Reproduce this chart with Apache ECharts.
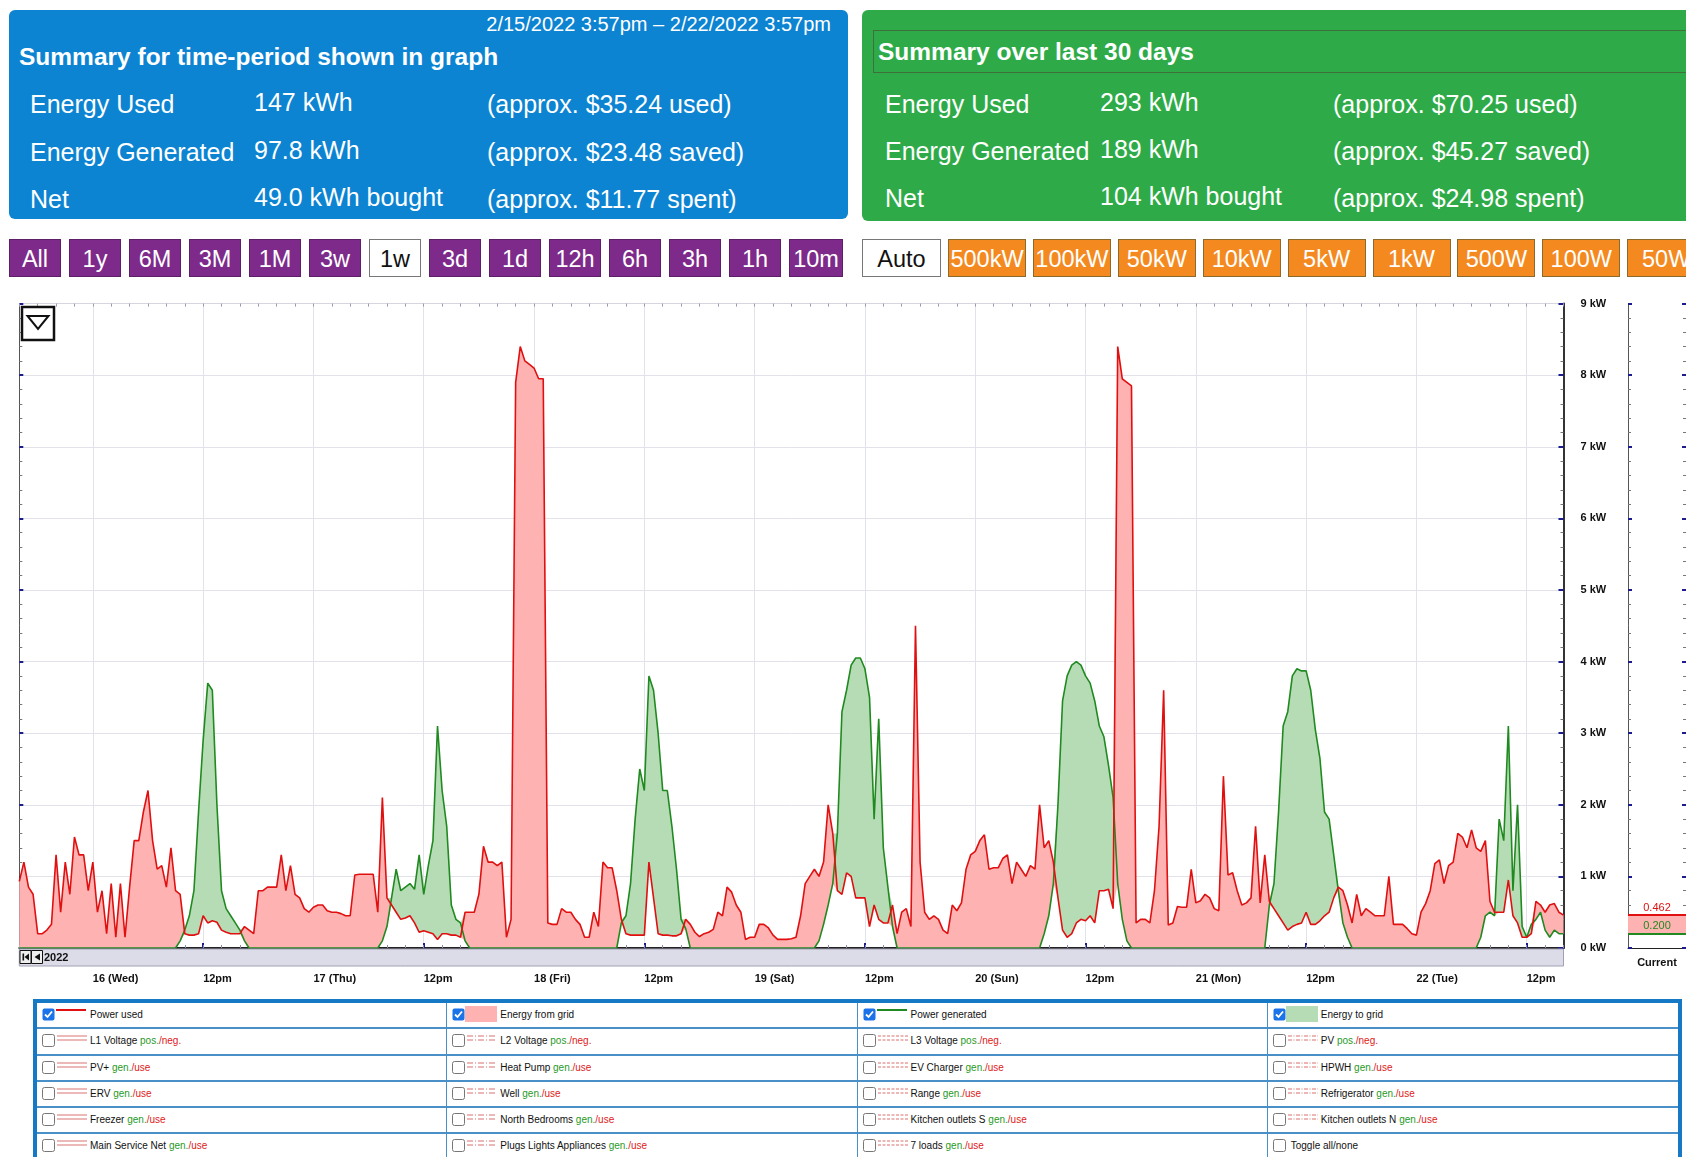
<!DOCTYPE html>
<html>
<head>
<meta charset="utf-8">
<script src="https://cdn.jsdelivr.net/npm/echarts@6/dist/echarts.min.js"></script>
<style>
  body { margin: 0; width: 1686px; height: 1157px; background: #fff; position: relative; overflow: hidden;
         font-family: "Liberation Sans", Arial, sans-serif; }
  .panel { position: absolute; border-radius: 6px; color: #fff; overflow: hidden; }
  .panel div { position: absolute; white-space: nowrap; }
  .row { font-size: 25px; line-height: 28px; }
  .title { font-size: 24.5px; line-height: 26px; font-weight: bold; }
  .btn { position: absolute; top: 239px; height: 38px; line-height: 38px; text-align: center; font-size: 23.5px;
         color: #fff; box-sizing: border-box; white-space: nowrap; overflow: hidden; }
  .purple { background: #7d2a8b; border: 1px solid #5e1f69; }
  .orange { background: #f48a1f; border: 1px solid #8b6a2c; }
  .white { background: #fff; color: #111; border: 1px solid #777; }
  #chart { position: absolute; left: 0; top: 285px; width: 1686px; height: 712px; }
  #legend { position: absolute; left: 33px; top: 999px; width: 1649px; border: 4px solid #1579c6; border-bottom: 0;
            box-sizing: border-box; display: grid; grid-template-columns: repeat(4, 1fr); background: #fff; }
  .cell { height: 24.3px; border-bottom: 2px solid #4a90c8; border-right: 1px solid #4a90c8; position: relative;
          font-size: 10px; color: #111; }
  .cell:nth-child(4n) { border-right: 0; }
  .cell svg { position: absolute; }
  .cell > span { position: absolute; left: 53px; top: 6px; white-space: nowrap; }
  .g { color: #1f9a1f; } .r { color: #e02020; }
</style>
</head>
<body>

<div class="panel" style="left:9px;top:10px;width:839px;height:209px;background:#0c84d2;">
  <div style="right:17px;top:3px;font-size:20px;line-height:22px;">2/15/2022 3:57pm &ndash; 2/22/2022 3:57pm</div>
  <div class="title" style="left:10px;top:34px;">Summary for time-period shown in graph</div>
  <div class="row" style="left:21px;top:80px;">Energy Used</div>
  <div class="row" style="left:245px;top:78px;">147 kWh</div>
  <div class="row" style="left:478px;top:80px;">(approx. $35.24 used)</div>
  <div class="row" style="left:21px;top:128px;">Energy Generated</div>
  <div class="row" style="left:245px;top:126px;">97.8 kWh</div>
  <div class="row" style="left:478px;top:128px;">(approx. $23.48 saved)</div>
  <div class="row" style="left:21px;top:175px;">Net</div>
  <div class="row" style="left:245px;top:173px;">49.0 kWh bought</div>
  <div class="row" style="left:478px;top:175px;">(approx. $11.77 spent)</div>
</div>

<div class="panel" style="left:862px;top:10px;width:840px;height:211px;background:#2eab48;">
  <div style="left:11px;top:20px;width:830px;height:41px;border:1px solid #3f6f3a;"></div>
  <div class="title" style="left:16px;top:29px;">Summary over last 30 days</div>
  <div class="row" style="left:23px;top:80px;">Energy Used</div>
  <div class="row" style="left:238px;top:78px;">293 kWh</div>
  <div class="row" style="left:471px;top:80px;">(approx. $70.25 used)</div>
  <div class="row" style="left:23px;top:127px;">Energy Generated</div>
  <div class="row" style="left:238px;top:125px;">189 kWh</div>
  <div class="row" style="left:471px;top:127px;">(approx. $45.27 saved)</div>
  <div class="row" style="left:23px;top:174px;">Net</div>
  <div class="row" style="left:238px;top:172px;">104 kWh bought</div>
  <div class="row" style="left:471px;top:174px;">(approx. $24.98 spent)</div>
</div>

<div id="buttons"></div>
<div id="chart"></div>
<div id="legend"></div>

<script>
// half-hourly readings, first one at 2/15 16:00 (hour -8 relative to midnight of the 16th)
const startHour = -8;
const stepHours = 0.5;

// power used, kW
const usedKw = [
  0.93, 1.2, 0.85, 0.75, 0.2, 0.2, 0.25, 0.33, 1.3, 0.5, 1.2, 0.75, 1.55, 1.3, 1.3, 0.8,
  1.2, 0.5, 0.8, 0.2, 0.9, 0.15, 0.9, 0.15, 0.85, 1.5, 1.5, 1.9, 2.2, 1.5, 1.1, 1.15, 0.85, 1.4, 0.8, 0.75, 0.2, 0.18, 0.18, 0.2,
  0.45, 0.35, 0.38, 0.36, 0.25, 0.22, 0.2, 0.2, 0.2, 0.3, 0.25, 0.2, 0.8, 0.8, 0.85, 0.85, 0.85, 1.3, 0.8, 1.15, 0.75, 0.7, 0.55, 0.5,
  0.57, 0.6, 0.6, 0.52, 0.5, 0.5, 0.48, 0.45, 0.45, 1.02, 1.03, 1.03, 1.03, 1.03, 0.5, 2.1, 0.7, 0.6, 0.5, 0.4, 0.42, 0.45, 0.35, 0.22,
  0.24, 0.22, 0.2, 0.12, 0.2, 0.2, 0.18, 0.18, 0.15, 0.5, 0.5, 0.5, 0.75, 1.42, 1.2, 1.2, 1.15, 1.2, 0.15, 0.4, 7.9, 8.4, 8.2, 8.15,
  8.1, 7.95, 7.95, 0.35, 0.33, 0.33, 0.55, 0.5, 0.5, 0.4, 0.33, 0.15, 0.15, 0.5, 0.3, 1.2, 1.12, 1.12, 0.8, 0.4, 0.2, 0.18, 0.18, 0.18,
  0.18, 1.2, 0.7, 0.2, 0.18, 0.18, 0.17, 0.17, 0.2, 0.4, 0.33, 0.22, 0.16, 0.2, 0.22, 0.26, 0.5, 0.45, 0.85, 0.78, 0.6, 0.5, 0.12, 0.15,
  0.15, 0.33, 0.33, 0.28, 0.18, 0.12, 0.12, 0.12, 0.13, 0.15, 0.45, 0.9, 1.0, 1.1, 1.0, 1.2, 2.0, 1.6, 0.8, 0.75, 1.05, 1.0, 0.7, 0.7,
  0.7, 0.3, 0.6, 0.4, 0.35, 0.35, 0.6, 0.2, 0.5, 0.55, 0.3, 4.5, 1.2, 0.5, 0.4, 0.45, 0.4, 0.25, 0.2, 0.6, 0.52, 0.63, 1.1, 1.3,
  1.35, 1.5, 1.58, 1.1, 1.12, 1.12, 1.25, 1.3, 0.9, 1.2, 1.1, 1.0, 1.15, 1.1, 2.0, 1.4, 1.5, 1.2, 0.7, 0.25, 0.15, 0.2, 0.35, 0.4,
  0.38, 0.45, 0.35, 0.8, 0.8, 0.82, 0.55, 8.4, 7.95, 7.9, 7.85, 0.35, 0.4, 0.4, 0.35, 0.8, 1.7, 3.6, 0.32, 0.35, 0.58, 0.57, 0.57, 1.1,
  0.63, 0.66, 0.75, 0.7, 0.55, 0.52, 2.4, 1.02, 1.05, 0.8, 0.6, 0.63, 0.7, 1.7, 0.63, 1.3, 0.65, 0.55, 0.45, 0.35, 0.25, 0.3, 0.33, 0.35,
  0.5, 0.33, 0.33, 0.38, 0.45, 0.5, 0.7, 0.85, 0.8, 0.6, 0.35, 0.75, 0.45, 0.55, 0.5, 0.45, 0.45, 0.45, 1.0, 0.33, 0.33, 0.33, 0.27, 0.2,
  0.18, 0.5, 0.62, 0.8, 1.18, 1.23, 0.9, 1.15, 1.2, 1.6, 1.55, 1.4, 1.65, 1.4, 1.35, 1.5, 0.65, 0.5, 0.5, 0.5, 0.95, 0.45, 0.35, 0.15,
  0.15, 0.2, 0.65, 0.6, 0.5, 0.6, 0.62, 0.5, 0.46
];

// power generated, kW
const genKw = [
  0, 0, 0, 0, 0, 0, 0, 0, 0, 0, 0, 0, 0, 0, 0, 0,
  0, 0, 0, 0, 0, 0, 0, 0, 0, 0, 0, 0, 0, 0, 0, 0, 0, 0, 0, 0.1, 0.25, 0.45, 0.8, 1.9,
  2.9, 3.7, 3.6, 2.0, 0.8, 0.55, 0.45, 0.35, 0.25, 0.1, 0, 0, 0, 0, 0, 0, 0, 0, 0, 0, 0, 0, 0, 0,
  0, 0, 0, 0, 0, 0, 0, 0, 0, 0, 0, 0, 0, 0, 0, 0.1, 0.3, 0.7, 1.1, 0.8, 0.85, 0.9, 0.82, 1.3,
  0.75, 1.15, 1.5, 3.1, 2.2, 1.7, 0.6, 0.4, 0.35, 0.1, 0, 0, 0, 0, 0, 0, 0, 0, 0, 0, 0, 0, 0, 0,
  0, 0, 0, 0, 0, 0, 0, 0, 0, 0, 0, 0, 0, 0, 0, 0, 0, 0, 0, 0.35, 0.45, 0.9, 1.8, 2.5,
  2.2, 3.8, 3.6, 3.0, 2.2, 2.2, 1.7, 1.1, 0.4, 0.27, 0, 0, 0, 0, 0, 0, 0, 0, 0, 0, 0, 0, 0, 0,
  0, 0, 0, 0, 0, 0, 0, 0, 0, 0, 0, 0, 0, 0, 0.1, 0.33, 0.6, 0.9, 1.6, 3.3, 3.6, 3.95, 4.05, 4.05,
  3.9, 3.5, 1.8, 3.2, 1.4, 0.85, 0.3, 0, 0, 0, 0, 0, 0, 0, 0, 0, 0, 0, 0, 0, 0, 0, 0, 0,
  0, 0, 0, 0, 0, 0, 0, 0, 0, 0, 0, 0, 0, 0, 0, 0.2, 0.45, 0.9, 2.0, 3.45, 3.8, 3.95, 4.0, 3.95,
  3.8, 3.7, 3.45, 3.1, 2.95, 2.55, 2.1, 0.9, 0.4, 0.1, 0, 0, 0, 0, 0, 0, 0, 0, 0, 0, 0, 0, 0, 0,
  0, 0, 0, 0, 0, 0, 0, 0, 0, 0, 0, 0, 0, 0, 0, 0, 0.6, 0.9, 1.9, 3.1, 3.3, 3.8, 3.9, 3.87,
  3.87, 3.6, 3.05, 2.65, 1.9, 1.8, 1.3, 0.8, 0.35, 0.15, 0, 0, 0, 0, 0, 0, 0, 0, 0, 0, 0, 0, 0, 0,
  0, 0, 0, 0, 0, 0, 0, 0, 0, 0, 0, 0, 0, 0, 0.15, 0.45, 0.5, 0.45, 1.8, 1.5, 3.1, 0.8, 2.0, 0.3,
  0.15, 0.33, 0.4, 0.5, 0.25, 0.15, 0.25, 0.2, 0.2
];

const currentUsed = 0.462;
const currentGen = 0.200;

const dayLabels = ['16 (Wed)', '17 (Thu)', '18 (Fri)', '19 (Sat)', '20 (Sun)', '21 (Mon)', '22 (Tue)'];
const noonLabel = '12pm';

const rangeButtons = ['All', '1y', '6M', '3M', '1M', '3w', '1w', '3d', '1d', '12h', '6h', '3h', '1h', '10m'];
const scaleButtons = ['Auto', '500kW', '100kW', '50kW', '10kW', '5kW', '1kW', '500W', '100W', '50W'];

const legendNames = [
  ['Power used', 'Energy from grid', 'Power generated', 'Energy to grid'],
  ['L1 Voltage', 'L2 Voltage', 'L3 Voltage', 'PV'],
  ['PV+', 'Heat Pump', 'EV Charger', 'HPWH'],
  ['ERV', 'Well', 'Range', 'Refrigerator'],
  ['Freezer', 'North Bedrooms', 'Kitchen outlets S', 'Kitchen outlets N'],
  ['Main Service Net', 'Plugs Lights Appliances', '7 loads', 'Toggle all/none']
];

// ---- buttons ----
let html = '';
rangeButtons.forEach((b, i) => {
  const w = i === rangeButtons.length - 1 ? 54 : 52;
  html += `<div class="btn ${b === '1w' ? 'white' : 'purple'}" style="left:${9 + i * 60}px;width:${w}px">${b}</div>`;
});
scaleButtons.forEach((b, i) => {
  const left = i === 0 ? 862 : 948 + (i - 1) * 84.9;
  html += `<div class="btn ${b === 'Auto' ? 'white' : 'orange'}" style="left:${left}px;width:${i === 0 ? 79 : 78}px">${b}</div>`;
});
document.getElementById('buttons').innerHTML = html;

// ---- legend table ----
const boxOn = '<svg style="left:5px;top:5px" width="13" height="13"><rect x="0.5" y="0.5" width="12" height="12" rx="2" fill="#1a73e8"/><path d="M3 6.5 L5.5 9 L10 3.5" stroke="#fff" stroke-width="1.8" fill="none"/></svg>';
const boxOff = '<svg style="left:5px;top:5px" width="13" height="13"><rect x="0.5" y="0.5" width="12" height="12" rx="2" fill="#fff" stroke="#777"/></svg>';
const dashes = ['', '6 2 1 2', '3 1.5', '4 1.5 1 1.5'];
function sample(row, col) {
  if (row === 0) {
    if (col === 0) return '<svg style="left:19px;top:5px" width="30" height="6"><line x1="0" y1="2" x2="30" y2="2" stroke="#e01010" stroke-width="2"/></svg>';
    if (col === 2) return '<svg style="left:19px;top:5px" width="30" height="6"><line x1="0" y1="2" x2="30" y2="2" stroke="#208a20" stroke-width="2"/></svg>';
    const c = col === 1 ? '#ffb2b2' : '#b6dcb6';
    return `<svg style="left:18px;top:3px" width="32" height="16"><rect width="32" height="16" fill="${c}"/></svg>`;
  }
  if (row === 5 && col === 3) return '';
  const d = dashes[col] ? `stroke-dasharray="${dashes[col]}"` : '';
  return `<svg style="left:20px;top:5px" width="30" height="9"><line x1="0" y1="2" x2="30" y2="2" stroke="#e6a0a0" stroke-width="1.5" ${d}/><line x1="0" y1="6" x2="30" y2="6" stroke="#e6a0a0" stroke-width="1.5" ${d}/></svg>`;
}
let lg = '';
legendNames.forEach((r, ri) => r.forEach((name, ci) => {
  let text = name;
  if (ri > 0 && !(ri === 5 && ci === 3)) {
    text += ri === 1 ? ' <span class="g">pos.</span><span class="r">/neg.</span>'
                     : ' <span class="g">gen.</span><span class="r">/use</span>';
  }
  const left = (ri === 5 && ci === 3) ? 23 : 53;
  lg += `<div class="cell">${ri === 0 ? boxOn : boxOff}${sample(ri, ci)}<span style="left:${left}px">${text}</span></div>`;
}));
document.getElementById('legend').innerHTML = lg;

// ---- chart ----
const hours = usedKw.map((_, i) => startHour + i * stepHours);
const baseKw = usedKw.map((u, i) => Math.min(u, genKw[i]));
const fromGridKw = usedKw.map((u, i) => Math.max(u - genKw[i], 0));
const toGridKw = usedKw.map((u, i) => Math.max(genKw[i] - u, 0));

const isMajor = i => hours[i] >= 0 && hours[i] % 12 === 0;
const isMinor = i => hours[i] % 2 === 0;

const font = '"Liberation Sans", Arial, sans-serif';
const tickBlue = '#1c1c8c';

const chart = echarts.init(document.getElementById('chart'));

const timeAxis = (extra) => Object.assign({
  type: 'category', gridIndex: 0, data: hours, boundaryGap: false,
  axisLine: { show: false }, axisLabel: { show: false }, splitLine: { show: false }
}, extra);

const kwAxis = (extra) => Object.assign({
  type: 'value', min: 0, max: 9, interval: 1,
  axisLine: { show: true, onZero: false, lineStyle: { color: '#555', width: 1 } },
  axisTick: { show: true, inside: true, length: 4, lineStyle: { color: tickBlue, width: 2 } },
  minorTick: { show: true, splitNumber: 5, length: 3, lineStyle: { color: '#777' } },
  axisLabel: { show: false }, splitLine: { show: false }
}, extra);

chart.setOption({
  animation: false,
  grid: [
    { left: 19.3, top: 18.6, width: 1544.2, height: 644.4 },
    { left: 1628, top: 18.6, width: 58, height: 644.4 }
  ],
  xAxis: [
    timeAxis({
      position: 'bottom',
      axisLine: { show: true, onZero: false, lineStyle: { color: '#222', width: 2 } },
      axisTick: { show: true, inside: true, length: 5, interval: isMajor, lineStyle: { color: tickBlue, width: 2 } },
      axisLabel: {
        show: true, interval: isMajor, align: 'left', margin: 25, hideOverlap: false,
        fontWeight: 'bold', fontSize: 11, color: '#111', fontFamily: font,
        formatter: v => (Number(v) % 24 === 0 ? dayLabels[Number(v) / 24] : noonLabel)
      },
      splitLine: { show: true, interval: isMajor, lineStyle: { color: '#e2e2ea', width: 1 } }
    }),
    timeAxis({ position: 'bottom', axisTick: { show: true, inside: true, length: 3, interval: isMinor, lineStyle: { color: '#8a8aa8' } } }),
    timeAxis({ position: 'top', axisLine: { show: true, onZero: false, lineStyle: { color: '#d6d6e0' } },
               axisTick: { show: true, inside: true, length: 3, interval: isMinor, lineStyle: { color: '#9a9ab4' } } }),
    timeAxis({ position: 'top', axisTick: { show: true, inside: true, length: 4, interval: isMajor, lineStyle: { color: tickBlue, width: 2 } } }),
    {
      type: 'category', gridIndex: 1, data: ['Current'],
      axisLine: { show: true, onZero: false, lineStyle: { color: '#222', width: 1 } }, axisTick: { show: false },
      axisLabel: { margin: 9, fontWeight: 'bold', fontSize: 11, color: '#111', fontFamily: font }
    }
  ],
  yAxis: [
    kwAxis({
      gridIndex: 0, position: 'right',
      axisLine: { show: true, onZero: false, lineStyle: { color: '#333', width: 2 } },
      axisTick: { show: true, inside: true, length: 5, lineStyle: { color: tickBlue, width: 2 } },
      axisLabel: { show: true, formatter: v => v + ' kW', margin: 17, align: 'left', fontWeight: 'bold', fontSize: 11, color: '#111', fontFamily: font },
      splitLine: { show: true, lineStyle: { color: '#e2e2ea' } }
    }),
    kwAxis({ gridIndex: 0, position: 'left' }),
    kwAxis({ gridIndex: 1, position: 'left' }),
    kwAxis({ gridIndex: 1, position: 'right' })
  ],
  series: [
    { type: 'line', stack: 'fill', data: baseKw, symbol: 'none', silent: true,
      lineStyle: { opacity: 0 }, areaStyle: { opacity: 0 } },
    { type: 'line', name: 'Energy from grid', stack: 'fill', data: fromGridKw, symbol: 'none', silent: true,
      lineStyle: { opacity: 0 }, areaStyle: { color: '#ffb2b2', opacity: 1 } },
    { type: 'line', name: 'Energy to grid', stack: 'fill', data: toGridKw, symbol: 'none', silent: true,
      lineStyle: { opacity: 0 }, areaStyle: { color: '#b6dcb6', opacity: 1 } },
    { type: 'line', name: 'Power generated', data: genKw, symbol: 'none', lineStyle: { color: '#208a20', width: 1.6 } },
    { type: 'line', name: 'Power used', data: usedKw, symbol: 'none', lineStyle: { color: '#e01010', width: 1.6 } },
    { type: 'bar', xAxisIndex: 4, yAxisIndex: 2, stack: 'cur', data: [currentGen], barWidth: '100%',
      itemStyle: { color: 'rgba(0,0,0,0)' }, silent: true },
    { type: 'bar', xAxisIndex: 4, yAxisIndex: 2, stack: 'cur', data: [currentUsed - currentGen], barWidth: '100%',
      itemStyle: { color: '#ffb2b2' }, silent: true,
      markLine: {
        symbol: 'none', silent: true,
        data: [
          { yAxis: currentUsed, lineStyle: { color: '#e01010', width: 2, type: 'solid' },
            label: { formatter: currentUsed.toFixed(3), position: 'insideMiddleTop', color: '#e01010', fontSize: 11, distance: 2 } },
          { yAxis: currentGen, lineStyle: { color: '#208a20', width: 2, type: 'solid' },
            label: { formatter: currentGen.toFixed(3), position: 'insideMiddleTop', color: '#208a20', fontSize: 11, distance: 2 } }
        ]
      } }
  ],
  graphic: [
    { type: 'rect', z: 100, shape: { x: 19.3, y: 664, width: 1544.2, height: 17 },
      style: { fill: '#dcdce8', stroke: '#a0a0b6', lineWidth: 1 } },
    { type: 'rect', z: 101, shape: { x: 20, y: 665.5, width: 11, height: 13 }, style: { fill: '#eee', stroke: '#111', lineWidth: 1 } },
    { type: 'rect', z: 101, shape: { x: 31.5, y: 665.5, width: 11, height: 13 }, style: { fill: '#eee', stroke: '#111', lineWidth: 1 } },
    { type: 'rect', z: 102, shape: { x: 22.5, y: 668.5, width: 1.6, height: 7 }, style: { fill: '#111' } },
    { type: 'polygon', z: 102, shape: { points: [[29, 668.5], [29, 675.5], [24.5, 672]] }, style: { fill: '#111' } },
    { type: 'polygon', z: 102, shape: { points: [[40, 668.5], [40, 675.5], [34.5, 672]] }, style: { fill: '#111' } },
    { type: 'text', z: 102, x: 44, y: 672.5,
      style: { text: '2022', fill: '#111', font: 'bold 11px ' + font, textVerticalAlign: 'middle' } },
    { type: 'rect', z: 100, shape: { x: 22, y: 22, width: 32, height: 33 }, style: { fill: '#fff', stroke: '#111', lineWidth: 2.5 } },
    { type: 'polygon', z: 101, shape: { points: [[27.5, 31], [48.5, 31], [38, 44]] },
      style: { fill: 'none', stroke: '#111', lineWidth: 2 } }
  ]
});
</script>
</body>
</html>
